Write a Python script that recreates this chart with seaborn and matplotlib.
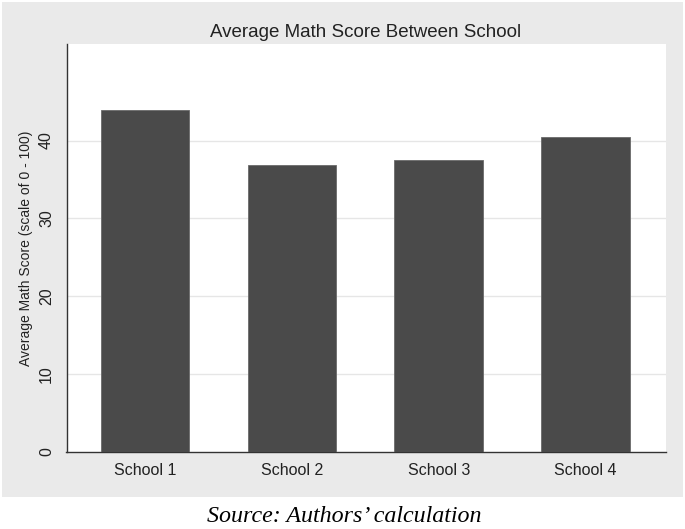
import matplotlib.pyplot as plt
import matplotlib.patches as mpatches
import pandas as pd
import seaborn as sns

schools = ["School 1", "School 2", "School 3", "School 4"]
math_scores = [43.9, 36.8, 37.5, 40.5]
y_ticks = [0, 10, 20, 30, 40]

df = pd.DataFrame({"School": schools, "Score": math_scores})

sns.set_style("white")
plt.rcParams["font.family"] = ["Liberation Sans", "DejaVu Sans"]

fig = plt.figure(figsize=(6.85, 5.29), dpi=100)
fig.patch.set_facecolor("white")

# Stata-like light gray graph region, caption sits below it on white
W, H = 685, 529
fig.patches.append(mpatches.Rectangle((2 / W, 1 - 497 / H), 681 / W, 495 / H,
                                      transform=fig.transFigure, facecolor="#eaeaea",
                                      edgecolor="none", zorder=-10))

ax = fig.add_axes([66.5 / W, 1 - 452 / H, 599 / W, 408 / H])
ax.set_zorder(1)
ax.set_facecolor("white")

sns.barplot(data=df, x="School", y="Score", color="#4a4a4a", saturation=1,
            width=0.604, edgecolor="#6a6a6a", linewidth=0.6, ax=ax, zorder=3)

ax.set_xlim(-0.535, 3.543)
ax.set_ylim(0, 52.4)
ax.set_yticks(y_ticks)
ax.set_yticklabels([str(t) for t in y_ticks], rotation=90, va="center", fontsize=11.5, color="#222222")
ax.tick_params(axis="x", length=0, labelsize=11.5, labelcolor="#222222", pad=8)
ax.tick_params(axis="y", length=6, width=0.8, color="#333333", pad=3)

for t in y_ticks[1:]:
    ax.axhline(t, color="#e6e6e6", linewidth=1.0, zorder=1)

for side in ["top", "right"]:
    ax.spines[side].set_visible(False)
for side in ["left", "bottom"]:
    ax.spines[side].set_color("#333333")
    ax.spines[side].set_linewidth(1.0)

ax.set_xlabel("")
ax.set_ylabel("Average Math Score (scale of 0 - 100)", fontsize=10, color="#222222")
ax.yaxis.set_label_coords(-0.0554, 0.5)
ax.set_title("Average Math Score Between School", fontsize=13.5, color="#222222", pad=5)

fig.text(344 / W, 1 - 517 / H, "Source: Authors\u2019 calculation", ha="center", va="center",
         fontsize=17.3, style="italic", family=["Liberation Serif", "DejaVu Serif"], color="black")

fig.savefig("out.png", dpi=100)
